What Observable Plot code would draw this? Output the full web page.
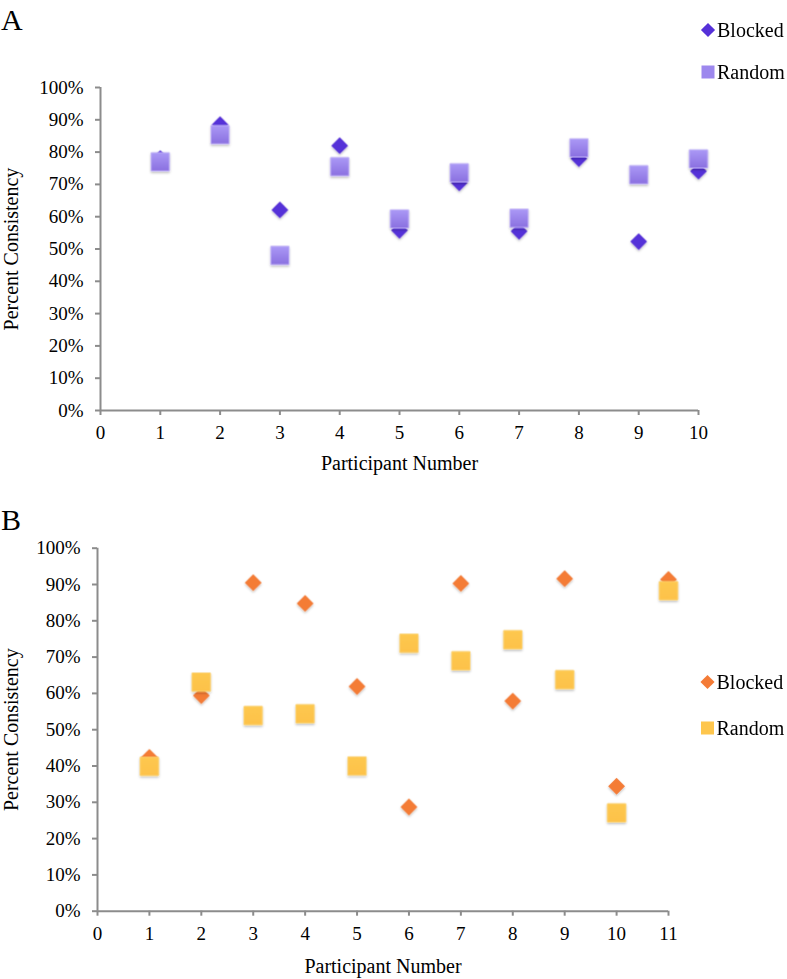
<!DOCTYPE html>
<html>
<head>
<meta charset="utf-8">
<script src="https://cdn.jsdelivr.net/npm/d3@7"></script>
<script src="https://cdn.jsdelivr.net/npm/@observablehq/plot@0.6"></script>
<style>
  html, body { margin: 0; padding: 0; background: #fff; }
  #wrap { position: relative; width: 787px; height: 979px; font-family: "Liberation Serif", "DejaVu Serif", serif; }
  #wrap > svg.panel { position: absolute; left: 0; }
  .plabel { position: absolute; font-size: 30px; color: #000; line-height: 1; }
  .legend { position: absolute; left: 0; top: 0; }
</style>
</head>
<body>
<div id="wrap"></div>
<script>
// ---- Data ----
const participantsA = [1, 2, 3, 4, 5, 6, 7, 8, 9, 10];
const blockedA = [0.78, 0.885, 0.621, 0.82, 0.558, 0.705, 0.555, 0.78, 0.523, 0.741];
const randomA  = [0.77, 0.854, 0.48, 0.755, 0.593, 0.736, 0.595, 0.813, 0.73, 0.779];

const participantsB = [1, 2, 3, 4, 5, 6, 7, 8, 9, 10, 11];
const blockedB = [0.424, 0.594, 0.905, 0.848, 0.619, 0.287, 0.903, 0.579, 0.916, 0.344, 0.914];
const randomB  = [0.399, 0.631, 0.539, 0.544, 0.40, 0.738, 0.69, 0.748, 0.638, 0.271, 0.883];

const seriesNames = ["Blocked", "Random"];
const yTicks = d3.range(0, 11).map(d => d / 10);
const xLabel = "Participant Number";
const yLabel = "Percent Consistency";

const axisColor = "#8c8c8c";
const FONT = "Liberation Serif";

function makePanel(cfg) {
  const blockedRows = cfg.xs.map((p, i) => ({p, v: cfg.blocked[i]}));
  const randomRows = cfg.xs.map((p, i) => ({p, v: cfg.random[i]}));
  const svg = Plot.plot({
    width: 787,
    height: cfg.height,
    marginTop: cfg.marginTop,
    marginBottom: cfg.marginBottom,
    marginLeft: cfg.marginLeft,
    marginRight: cfg.marginRight,
    style: {fontFamily: FONT, fontSize: "19px", color: "#000", background: "transparent", overflow: "visible"},
    x: {domain: [0, cfg.xMax]},
    y: {domain: [0, 1]},
    marks: [
      Plot.ruleX([0], {y1: 0, y2: 1, stroke: axisColor, strokeWidth: 2}),
      Plot.ruleY([0], {x1: 0, x2: cfg.xMax, stroke: axisColor, strokeWidth: 2}),
      Plot.axisY({ticks: yTicks, tickFormat: d3.format(".0%"), tickSize: 5, tickPadding: 12, stroke: axisColor, strokeWidth: 2, label: null, fontSize: 19}),
      Plot.axisY({ticks: [], tickSize: 0, label: yLabel, labelAnchor: "center", labelArrow: false, labelOffset: cfg.yLabelOffset, fontSize: 20}),
      Plot.axisX({ticks: d3.range(0, cfg.xMax + 1), tickFormat: d => String(d), tickSize: 5, tickPadding: 10, stroke: axisColor, strokeWidth: 2, label: null, fontSize: 19}),
      Plot.axisX({ticks: [], tickSize: 0, label: xLabel, labelAnchor: "center", labelArrow: false, labelOffset: cfg.xLabelOffset, fontSize: 20}),
      Plot.dot(blockedRows, {x: "p", y: "v", symbol: "square", rotate: 45, r: 6.7, fill: cfg.diamondFill, stroke: "none"}),
      Plot.dot(randomRows, {x: "p", y: "v", symbol: "square", r: 10.3, fill: cfg.squareFill, stroke: cfg.squareStroke, strokeWidth: 1})
    ]
  });
  svg.classList.add("panel");
  svg.style.top = cfg.top + "px";
  // gradient + soft shadow definitions
  const defs = d3.select(svg).insert("defs", ":first-child");
  const g = defs.append("linearGradient").attr("id", cfg.gradId).attr("x1", 0).attr("y1", 0).attr("x2", 0).attr("y2", 1);
  g.append("stop").attr("offset", "0%").attr("stop-color", cfg.gradTop);
  g.append("stop").attr("offset", "100%").attr("stop-color", cfg.gradBottom);
  const f = defs.append("filter").attr("id", cfg.gradId + "sh").attr("x", "-50%").attr("y", "-50%").attr("width", "200%").attr("height", "200%");
  f.append("feDropShadow").attr("dx", 0).attr("dy", 1.5).attr("stdDeviation", 1.2).attr("flood-color", "#000").attr("flood-opacity", 0.25);
  d3.select(svg).selectAll("g[aria-label=dot]").attr("filter", `url(#${cfg.gradId}sh)`);
  return svg;
}

const wrap = document.getElementById("wrap");

const svgA = makePanel({
  xs: participantsA, blocked: blockedA, random: randomA, xMax: 10,
  top: 0, height: 490, marginTop: 87, marginBottom: 80, marginLeft: 100, marginRight: 89,
  yLabelOffset: 97, xLabelOffset: 59,
  diamondFill: "#5530d8", squareFill: "url(#gA)", squareStroke: "#c0b2f7",
  gradId: "gA", gradTop: "#ab99f6", gradBottom: "#8a70e0"
});
const svgB = makePanel({
  xs: participantsB, blocked: blockedB, random: randomB, xMax: 11,
  top: 490, height: 489, marginTop: 57.7, marginBottom: 68.3, marginLeft: 97, marginRight: 119,
  yLabelOffset: 94, xLabelOffset: 62,
  diamondFill: "#f47b36", squareFill: "url(#gB)", squareStroke: "#fdd06a",
  gradId: "gB", gradTop: "#fec84f", gradBottom: "#fdc24a"
});
wrap.appendChild(svgA);
wrap.appendChild(svgB);

// panel letters
for (const [txt, top] of [["A", 5], ["B", 505]]) {
  const d = document.createElement("div");
  d.className = "plabel";
  d.textContent = txt;
  d.style.left = "1px";
  d.style.top = top + "px";
  wrap.appendChild(d);
}

// legends
const leg = d3.select(wrap).append("svg").attr("class", "legend").attr("width", 787).attr("height", 979)
  .style("position", "absolute").style("font-family", FONT).style("font-size", "20px");
const legends = [
  {cx: 708, ys: [30, 72], diamond: "#5530d8", square: "#9d88ee"},
  {cx: 707.5, ys: [682, 728], diamond: "#f47b36", square: "#fec64d"}
];
for (const L of legends) {
  seriesNames.forEach((name, i) => {
    const y = L.ys[i];
    if (i === 0) {
      leg.append("rect").attr("x", L.cx - 5).attr("y", y - 5).attr("width", 10).attr("height", 10)
        .attr("transform", `rotate(45 ${L.cx} ${y})`).attr("fill", L.diamond);
    } else {
      leg.append("rect").attr("x", L.cx - 6.5).attr("y", y - 6.5).attr("width", 13).attr("height", 13).attr("fill", L.square);
    }
    leg.append("text").attr("x", L.cx + 9).attr("y", y).attr("dy", "0.35em").attr("fill", "#000").text(name);
  });
}
</script>
</body>
</html>
